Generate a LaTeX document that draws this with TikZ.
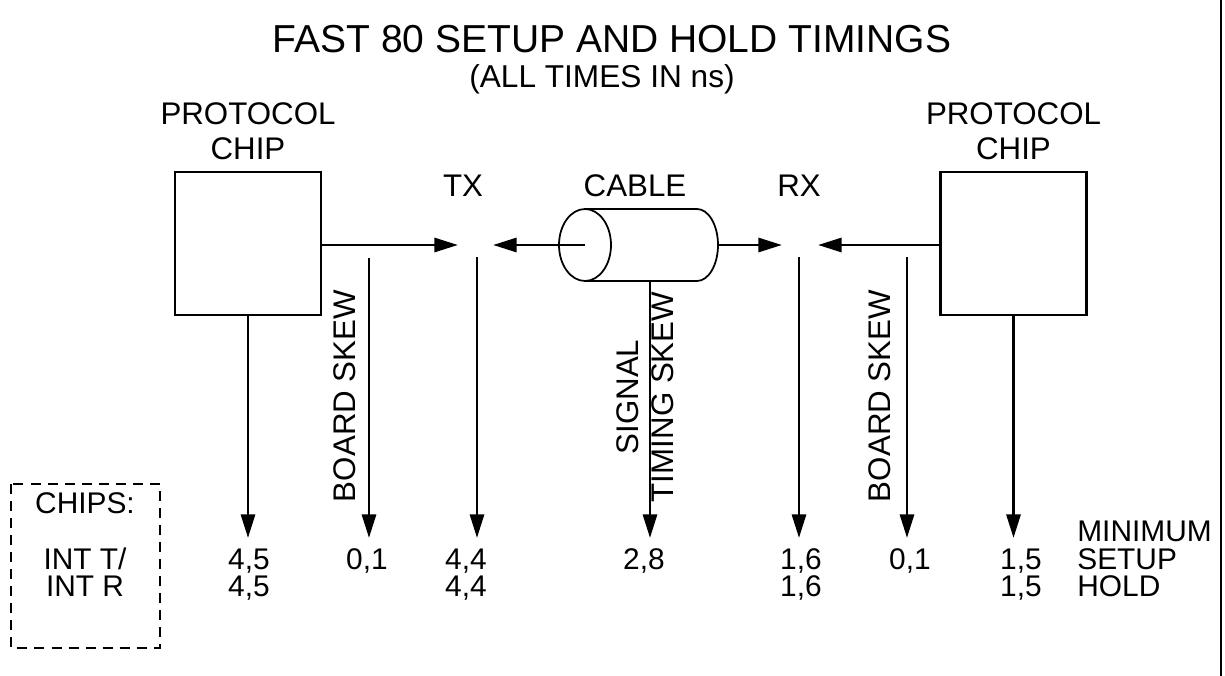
\documentclass[tikz,border=0pt]{standalone}
\usepackage{fontspec}
\setmainfont{Liberation Sans}
\usetikzlibrary{arrows.meta, positioning}
\newcommand{\lblsize}{\fontsize{17.8pt}{20pt}\selectfont}
\newcommand{\valsize}{\fontsize{17pt}{19pt}\selectfont}

\begin{document}
\begin{tikzpicture}[x=0.02cm, y=-0.02cm,
  lbl/.style={inner sep=0pt, font=\lblsize},
  val/.style={inner sep=0pt, font=\valsize, anchor=base},
  chipbox/.style={draw, line width=1.6pt, minimum width=2.92cm, minimum height=2.86cm, inner sep=0pt},
  sig/.style={line width=1.7pt, -{Triangle[length=13.5pt, width=8pt]}},
  cab/.style={line width=1pt}]
\useasboundingbox (0,0) rectangle (1225,676);
% right edge of the frame
\draw[line width=1.2pt] (1221,0) -- (1221,676);

% --- Titles ---
\node[inner sep=0pt, anchor=base, font=\fontsize{22.2pt}{24pt}\selectfont] (title) at (612,52) {FAST 80 SETUP AND HOLD TIMINGS};
\node[inner sep=0pt, anchor=base, font=\fontsize{18pt}{20pt}\selectfont] (subtitle) at (602,87) {(ALL TIMES IN ns)};

% --- Protocol chips ---
\node[chipbox] (chipL) at (248,243.5) {};
\node[chipbox] (chipR) at (1013.5,243.5) {};
\node[lbl, align=center] (protoL) at (248,131) {PROTOCOL\\CHIP};
\node[lbl, align=center] (protoR) at (1013.5,131) {PROTOCOL\\CHIP};

% --- Cable ---
\coordinate (cabL) at (585,245);
\coordinate (cabR) at (718,245);
\coordinate (cabB) at (650,281);
\draw[cab] (cabL) ellipse [x radius=0.52cm, y radius=0.72cm];
\draw[cab] (585,209) -- (697,209) arc[start angle=90, end angle=-90, x radius=0.42cm, y radius=0.72cm] -- (585,281);

\node[lbl, anchor=base] (tx) at (463,196) {TX};
\node[lbl, anchor=base] (cable) at (635,196) {CABLE};
\node[lbl, anchor=base] (rx) at (799,196) {RX};

% Horizontal signals
\coordinate (txIn) at (458,245);
\coordinate (txBack) at (493,245);
\coordinate (rxIn) at (782,245);
\coordinate (rxBack) at (818,245);
\draw[sig] (chipL.east |- txIn) -- (txIn);
\draw[sig] (cabL) -- (txBack);
\draw[sig] (cabR) -- (rxIn);
\draw[sig] (chipR.west |- rxBack) -- (rxBack);

% Vertical timing arrows
\coordinate (sBrdL) at (369,258);
\coordinate (sTx) at (477,257);
\coordinate (sRx) at (799,257);
\coordinate (sBrdR) at (907,257);
\coordinate (eChipL) at (248,538);
\coordinate (eBrdL) at (369,538);
\coordinate (eTx) at (477,538);
\coordinate (eCab) at (650,538);
\coordinate (eRx) at (799,538);
\coordinate (eBrdR) at (907,538);
\coordinate (eChipR) at (1013.5,538);
\draw[sig] (chipL.south) -- (eChipL);
\draw[sig] (sBrdL) -- (eBrdL);
\draw[sig] (sTx) -- (eTx);
\draw[sig] (cabB) -- (eCab);
\draw[sig] (sRx) -- (eRx);
\draw[sig] (sBrdR) -- (eBrdR);
\draw[sig] (chipR.south) -- (eChipR);

\node[lbl, rotate=90] (brdL) at (345,396) {BOARD SKEW};
\node[lbl, rotate=90] (brdR) at (880,396) {BOARD SKEW};
\node[lbl, rotate=90, align=center] (skew) at (645,397) {SIGNAL\\TIMING SKEW};

% --- Values ---
\node[val] (v1a) at (249,569) {4,5};
\node[val] (v1b) at (249,596) {4,5};
\node[val] (v2a) at (367,569) {0,1};
\node[val] (v3a) at (466,569) {4,4};
\node[val] (v3b) at (466,596) {4,4};
\node[val] (v4a) at (644,569) {2,8};
\node[val] (v5a) at (801,569) {1,6};
\node[val] (v5b) at (801,596) {1,6};
\node[val] (v6a) at (910,569) {0,1};
\node[val] (v7a) at (1021,569) {1,5};
\node[val] (v7b) at (1021,596) {1,5};

\node[val, anchor=base west] (minimum) at (1077,541) {MINIMUM};
\node[val, anchor=base west] (setup) at (1077,569) {SETUP};
\node[val, anchor=base west] (hold) at (1077,596) {HOLD};

% --- Chips key ---
\draw[line width=1.3pt, dash pattern=on 5.7pt off 4pt] (11,484) rectangle (160,648);
\node[val] (chips) at (85,513) {CHIPS:};
\node[val] (intt) at (85,569) {INT T/};
\node[val] (intr) at (85,596) {INT R};
\end{tikzpicture}
\end{document}
